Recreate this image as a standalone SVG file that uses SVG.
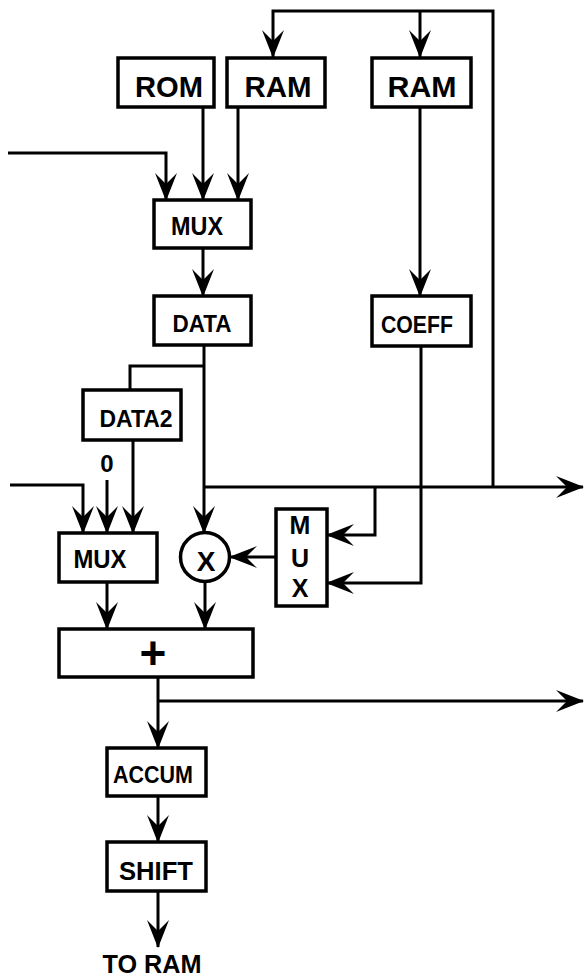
<svg xmlns="http://www.w3.org/2000/svg" width="584" height="977" viewBox="0 0 584 977">
<style>
.box{fill:#fff;stroke:#000;stroke-width:3.5}
.ln{fill:none;stroke:#000;stroke-width:3}
.arr{marker-end:url(#ah)}
text{font-family:"Liberation Sans",Arial,sans-serif;font-weight:bold;fill:#000;text-anchor:middle}
</style>
<defs>
<marker id="ah" markerUnits="userSpaceOnUse" viewBox="0 0 28 24" refX="27" refY="12" markerWidth="28" markerHeight="24" orient="auto">
<path d="M28,12 L0,1 L11,12 L0,23 Z" fill="#000"/>
</marker>
</defs>
<rect width="584" height="977" fill="#fff"/>
<g id="connectors">
<path class="ln arr" d="M493,487 L493,11 L273,11 L273,57"/>
<path class="ln arr" d="M420,11 L420,57"/>
<path class="ln arr" d="M8,153 L166,153 L166,200"/>
<path class="ln arr" d="M203,107 L203,200"/>
<path class="ln arr" d="M238,107 L238,200"/>
<path class="ln arr" d="M203,248 L203,296"/>
<path class="ln arr" d="M204,345 L204,533"/>
<path class="ln" d="M204,366 L130,366 L130,390"/>
<path class="ln arr" d="M204,487 L583,487"/>
<path class="ln arr" d="M133,440 L133,533"/>
<path class="ln arr" d="M107,480 L107,533"/>
<path class="ln arr" d="M10,485 L83,485 L83,533"/>
<path class="ln arr" d="M420,107 L420,296"/>
<path class="ln arr" d="M421,346 L421,583 L327,583"/>
<path class="ln arr" d="M375,487 L375,535 L327,535"/>
<path class="ln arr" d="M276,557 L230,557"/>
<path class="ln arr" d="M107,582 L107,629"/>
<path class="ln arr" d="M205,582 L205,629"/>
<path class="ln arr" d="M158,677 L158,748"/>
<path class="ln arr" d="M158,701 L583,701"/>
<path class="ln arr" d="M158,796 L158,842"/>
<path class="ln arr" d="M158,891 L158,947"/>
</g>
<g id="rom"><rect class="box" x="118" y="58" width="96" height="49"/><text x="169" y="97" font-size="30" textLength="68" lengthAdjust="spacingAndGlyphs">ROM</text></g>
<g id="ram1"><rect class="box" x="227" y="58" width="98" height="49"/><text x="278" y="97" font-size="30" textLength="67" lengthAdjust="spacingAndGlyphs">RAM</text></g>
<g id="ram2"><rect class="box" x="372" y="58" width="99" height="49"/><text x="422" y="97" font-size="30" textLength="69" lengthAdjust="spacingAndGlyphs">RAM</text></g>
<g id="mux1"><rect class="box" x="154" y="200" width="97" height="48"/><text x="197" y="235" font-size="25" textLength="52" lengthAdjust="spacingAndGlyphs">MUX</text></g>
<g id="data"><rect class="box" x="154" y="296" width="97" height="49"/><text x="202" y="332" font-size="24" textLength="59" lengthAdjust="spacingAndGlyphs">DATA</text></g>
<g id="coeff"><rect class="box" x="372" y="296" width="99" height="50"/><text x="417" y="333" font-size="24" textLength="72" lengthAdjust="spacingAndGlyphs">COEFF</text></g>
<g id="data2"><rect class="box" x="83" y="390" width="98" height="50"/><text x="136" y="427" font-size="24" textLength="73" lengthAdjust="spacingAndGlyphs">DATA2</text></g>
<g id="zero"><text x="107" y="472" font-size="24">0</text></g>
<g id="mux2"><rect class="box" x="59" y="533" width="98" height="49"/><text x="100" y="568" font-size="25" textLength="53" lengthAdjust="spacingAndGlyphs">MUX</text></g>
<g id="mult"><circle class="box" cx="205" cy="557" r="24.5"/><text x="206" y="571" font-size="28">X</text></g>
<g id="mux3"><rect class="box" x="276" y="509" width="51" height="97"/><text x="300" y="534" font-size="25">M</text><text x="300" y="567" font-size="25">U</text><text x="300" y="597" font-size="25">X</text></g>
<g id="adder"><rect class="box" x="59" y="629" width="194" height="48"/><text x="153" y="669" font-size="46" font-weight="normal">+</text></g>
<g id="accum"><rect class="box" x="107" y="748" width="99" height="48"/><text x="153" y="783" font-size="24" textLength="80" lengthAdjust="spacingAndGlyphs">ACCUM</text></g>
<g id="shift"><rect class="box" x="107" y="842" width="99" height="49"/><text x="156" y="880" font-size="25" textLength="74" lengthAdjust="spacingAndGlyphs">SHIFT</text></g>
<g id="toram"><text x="152" y="973" font-size="25" textLength="99" lengthAdjust="spacingAndGlyphs">TO RAM</text></g>
</svg>
